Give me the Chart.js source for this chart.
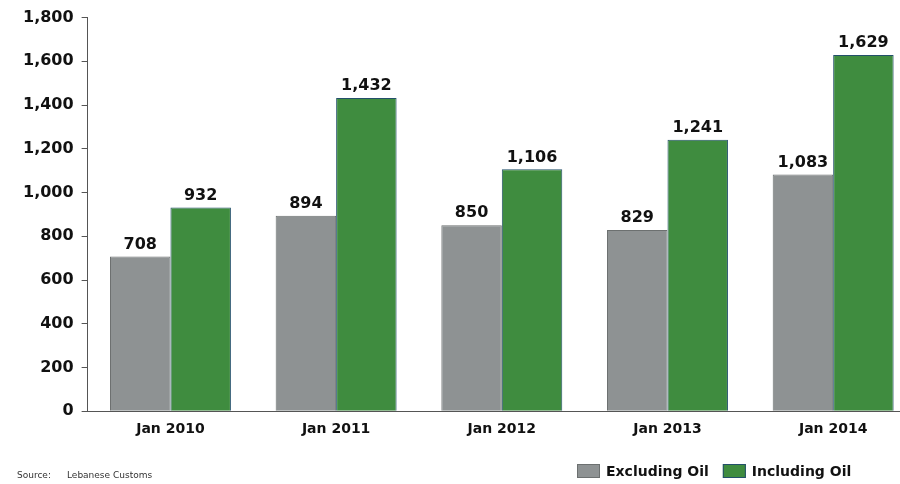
<!DOCTYPE html>
<html>
<head>
<meta charset="utf-8">
<title>Imports</title>
<script src="https://cdn.jsdelivr.net/npm/chart.js@4/dist/chart.umd.min.js"></script>
<style>
    html, body { margin: 0; padding: 0; background: #fff; overflow: hidden; }
    #wrap { width: 900px; height: 484px; overflow: hidden; }
</style>
</head>
<body>
<div id="wrap">
    <canvas id="imports-chart" width="916" height="484"></canvas>
</div>
<script>
const categories = ['Jan 2010', 'Jan 2011', 'Jan 2012', 'Jan 2013', 'Jan 2014'];
const excludingOil = [708, 894, 850, 829, 1083];
const includingOil = [932, 1432, 1106, 1241, 1629];
const seriesNames = ['Excluding Oil', 'Including Oil'];
const sourceLabel = 'Source:';
const sourceName = 'Lebanese Customs';

const FONT = '"DejaVu Sans", sans-serif';

// value labels above each bar
const valueLabels = {
    id: 'valueLabels',
    afterDatasetsDraw(chart) {
        const ctx = chart.ctx;
        ctx.save();
        ctx.font = 'bold 16px ' + FONT;
        ctx.fillStyle = '#111';
        ctx.textAlign = 'center';
        ctx.textBaseline = 'bottom';
        chart.data.datasets.forEach((ds, i) => {
            chart.getDatasetMeta(i).data.forEach((bar, j) => {
                ctx.fillText(ds.data[j].toLocaleString('en-US'), bar.x, bar.y - 4);
            });
        });
        ctx.restore();
    }
};

// legend at bottom right plus the source note at bottom left
const footer = {
    id: 'footer',
    afterDraw(chart) {
        const ctx = chart.ctx;
        ctx.save();
        ctx.font = '9px ' + FONT;
        ctx.fillStyle = '#333';
        ctx.textBaseline = 'middle';
        ctx.fillText(sourceLabel, 17, 476);
        ctx.fillText(sourceName, 67, 476);

        ctx.font = 'bold 14px ' + FONT;
        let x = 577;
        chart.data.datasets.forEach(ds => {
            ctx.fillStyle = ds.backgroundColor;
            ctx.strokeStyle = ds.borderColor;
            ctx.lineWidth = 1;
            ctx.fillRect(x, 464, 23, 14);
            ctx.strokeRect(x + 0.5, 464.5, 22, 13);
            ctx.fillStyle = '#111';
            ctx.fillText(ds.label, x + 29, 472);
            x += 29 + ctx.measureText(ds.label).width + 14;
        });
        ctx.restore();
    }
};

const ctx = document.getElementById('imports-chart').getContext('2d');
new Chart(ctx, {
    type: 'bar',
    data: {
        labels: categories,
        datasets: [{
            label: seriesNames[0],
            data: excludingOil,
            backgroundColor: '#8e9293',
            borderColor: '#6c7070',
            borderWidth: 1
        }, {
            label: seriesNames[1],
            data: includingOil,
            backgroundColor: '#3f8c3f',
            borderColor: '#23506a',
            borderWidth: 1
        }]
    },
    options: {
        responsive: false,
        animation: false,
        layout: { padding: { top: 10, left: 15, right: 0, bottom: 36 } },
        plugins: {
            legend: { display: false },
            tooltip: { enabled: false }
        },
        datasets: {
            bar: { categoryPercentage: 0.73, barPercentage: 1 }
        },
        scales: {
            x: {
                grid: { display: false, drawTicks: false },
                border: { color: '#555', width: 1 },
                ticks: {
                    color: '#111',
                    padding: 10,
                    font: { family: FONT, size: 14, weight: 'bold' }
                }
            },
            y: {
                min: 0,
                max: 1800,
                grid: { drawOnChartArea: false, drawTicks: true, tickLength: 6, color: '#555' },
                border: { color: '#555', width: 1 },
                ticks: {
                    stepSize: 200,
                    color: '#111',
                    padding: 8,
                    font: { family: FONT, size: 16, weight: 'bold' },
                    callback: v => v.toLocaleString('en-US')
                }
            }
        }
    },
    plugins: [valueLabels, footer]
});
</script>
</body>
</html>
